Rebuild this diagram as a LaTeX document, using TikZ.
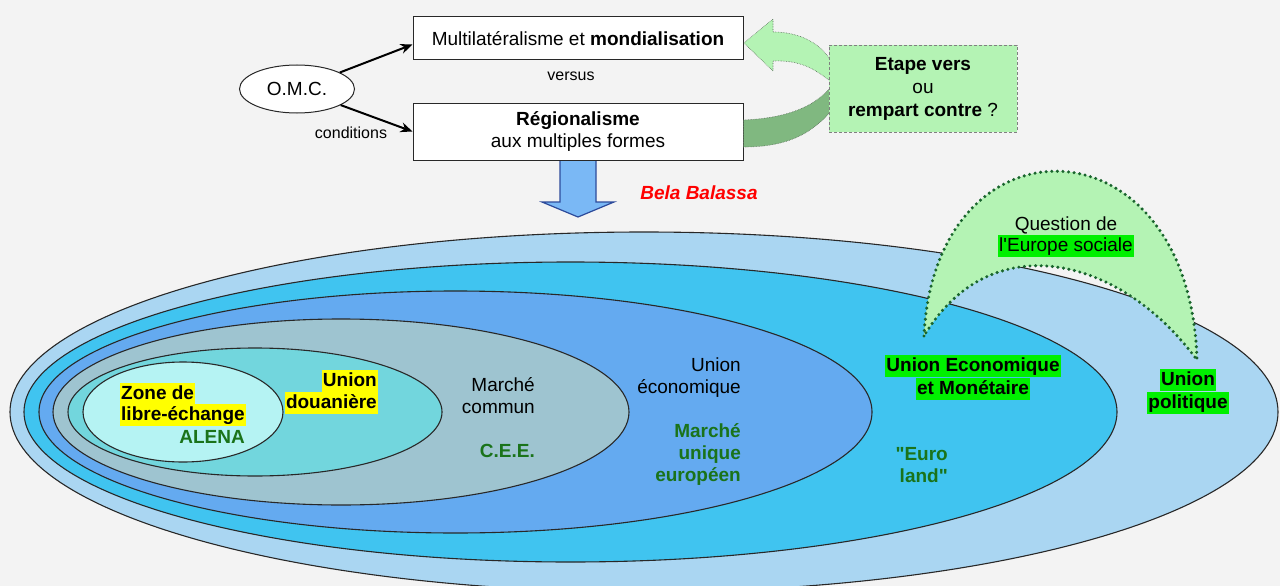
\documentclass[tikz,border=0pt]{standalone}
\usepackage{fontspec}
\setmainfont{Liberation Sans}
\newfontfamily\af{Liberation Sans}
\usetikzlibrary{arrows.meta,shapes.geometric,calc}
\definecolor{bg}{RGB}{243,243,243}
\definecolor{cOut}{RGB}{170,214,242}
\definecolor{cCyan}{RGB}{64,196,240}
\definecolor{cBlue}{RGB}{100,170,240}
\definecolor{cGrey}{RGB}{158,196,208}
\definecolor{cTeal}{RGB}{114,214,221}
\definecolor{cLight}{RGB}{181,243,243}
\definecolor{lgreen}{RGB}{180,243,180}
\definecolor{bandgreen}{RGB}{128,184,128}
\definecolor{bandedge}{RGB}{90,110,90}
\definecolor{dkg}{RGB}{26,115,26}
\definecolor{hlgreen}{RGB}{0,240,0}
\definecolor{hlyellow}{RGB}{255,255,0}
\definecolor{archcol}{RGB}{25,100,45}
\definecolor{arrowblue}{RGB}{122,184,245}
\definecolor{arrowedge}{RGB}{45,75,155}
\definecolor{edgecol}{RGB}{40,40,40}
\tikzset{
 txtbig/.style={font=\af\fontsize{19}{22}\selectfont, inner sep=0pt},
 txtsmall/.style={font=\af\fontsize{16}{19}\selectfont, inner sep=0pt},
 hlbox/.style={txtbig, text height=15.5pt, text depth=4.5pt, inner xsep=1pt, inner ysep=1pt},
 ellline/.style={draw=edgecol, line width=1.1pt},
 rectbox/.style={draw=edgecol, fill=white, line width=1pt, font=\af\fontsize{19}{22}\selectfont, align=center, inner sep=0pt},
 arrline/.style={-{Stealth[length=12pt,width=10pt]}, line width=2pt},
 archline/.style={draw=archcol, line width=3.4pt, dash pattern=on 0pt off 5.6pt, line cap=round},
 bandline/.style={draw=bandedge, densely dotted, line width=0.6pt},
}
\begin{document}
\begin{tikzpicture}[x=1pt,y=-1pt]
\useasboundingbox (0,0) rectangle (1280,586);
\clip (0,0) rectangle (1280,586);
\fill[bg] (0,0) rectangle (1280,586);
% nested ellipses
\draw[ellline, fill=cOut] (644,412) ellipse [x radius=634pt, y radius=180pt];
\draw[ellline, fill=cCyan] (570.5,412) ellipse [x radius=546.5pt, y radius=150pt];
\draw[ellline, fill=cBlue] (455.5,412) ellipse [x radius=416.5pt, y radius=121pt];
\draw[ellline, fill=cGrey] (341,412) ellipse [x radius=288pt, y radius=93pt];
\draw[ellline, fill=cTeal] (255,412) ellipse [x radius=187pt, y radius=64pt];
\draw[ellline, fill=cLight] (183,412) ellipse [x radius=100pt, y radius=50pt];
% crescent arch
\path[fill=lgreen, archline] (924,336) .. controls (935,110) and (1190,115) .. (1197,360)
  .. controls (1120,255) and (990,225) .. (924,336) -- cycle;
\node[txtbig, anchor=base] (q1) at (1066,230) {Question de};
\node[hlbox, fill=hlgreen, anchor=base] (q2) at (1066,251) {l'Europe sociale};
% labels in ellipses
\node[hlbox, fill=hlyellow, anchor=base west] (z1) at (120,399) {\bfseries Zone de};
\node[hlbox, fill=hlyellow, anchor=base west] (z2) at (120,420) {\bfseries libre-échange};
\node[txtbig, text=dkg, anchor=base east] (alena) at (245,443) {\bfseries ALENA};
\node[hlbox, fill=hlyellow, anchor=base east] (d1) at (378,386) {\bfseries Union};
\node[hlbox, fill=hlyellow, anchor=base east] (d2) at (378,408) {\bfseries douanière};
\node[txtbig, anchor=base east] (m1) at (535,391) {Marché};
\node[txtbig, anchor=base east] (m2) at (535,413) {commun};
\node[txtbig, text=dkg, anchor=base east] (cee) at (535,457) {\bfseries C.E.E.};
\node[txtbig, anchor=base east] (e1) at (741,371) {Union};
\node[txtbig, anchor=base east] (e2) at (741,393) {économique};
\node[txtbig, text=dkg, anchor=base east] (u1) at (741,437) {\bfseries Marché};
\node[txtbig, text=dkg, anchor=base east] (u2) at (741,459) {\bfseries unique};
\node[txtbig, text=dkg, anchor=base east] (u3) at (741,481) {\bfseries européen};
\node[hlbox, fill=hlgreen, anchor=base] (uem1) at (973,371) {\bfseries Union Economique};
\node[hlbox, fill=hlgreen, anchor=base] (uem2) at (973,394) {\bfseries et Monétaire};
\node[txtbig, text=dkg, anchor=base east] (eu1) at (948,460) {\bfseries "Euro};
\node[txtbig, text=dkg, anchor=base east] (eu2) at (948,482) {\bfseries land"};
\node[hlbox, fill=hlgreen, anchor=base] (p1) at (1188,385) {\bfseries Union};
\node[hlbox, fill=hlgreen, anchor=base] (p2) at (1188,408) {\bfseries politique};
% down arrow
\draw[fill=arrowblue, draw=arrowedge, line width=1.2pt] (560,158) -- (560,202) -- (542,202) -- (578,217) -- (614,202) -- (596,202) -- (596,158);
% boxes
\node[rectbox, minimum width=330pt, minimum height=43pt] (multi) at (578,38.5) {Multilatéralisme et \textbf{mondialisation}};
\node[rectbox, minimum width=330pt, minimum height=57pt] (region) at (578,131.5) {\textbf{Régionalisme}\\aux multiples formes};
% curved arrow
\path[fill=bandgreen, bandline] (743.5,120) .. controls (790,118) and (820,105) .. (836,80) -- (836,105) .. controls (815,132) and (790,147) .. (743.5,147) -- cycle;
\path[fill=lgreen, bandline] (836,86) .. controls (815,68) and (800,60) .. (773,61) -- (773,71) -- (744,43) -- (773,19) -- (773,32) .. controls (805,32) and (828,48) .. (836,72) -- cycle;
\node[draw=gray, densely dashed, line width=0.8pt, fill=lgreen, minimum width=188pt, minimum height=87pt, inner sep=0pt, font=\af\fontsize{19}{23}\selectfont, align=center] (etape) at (923,88.5) {\textbf{Etape vers}\\ou\\\textbf{rempart contre} ?};
% OMC
\node[ellipse, draw=edgecol, fill=white, line width=1pt, minimum width=115pt, minimum height=48pt, inner sep=0pt, font=\af\fontsize{19}{22}\selectfont] (omc) at (297,89) {O.M.C.};
\draw[arrline] (omc) -- ($(multi.west)+(0,6)$);
\draw[arrline] (omc) -- (region.west);
\node[txtsmall, anchor=base] (versus) at (571,81) {versus};
\node[txtsmall, anchor=base] (cond) at (351,138) {conditions};
\node[txtbig, text=red, anchor=base] (bela) at (699,199) {\bfseries\itshape Bela Balassa};
\end{tikzpicture}
\end{document}
